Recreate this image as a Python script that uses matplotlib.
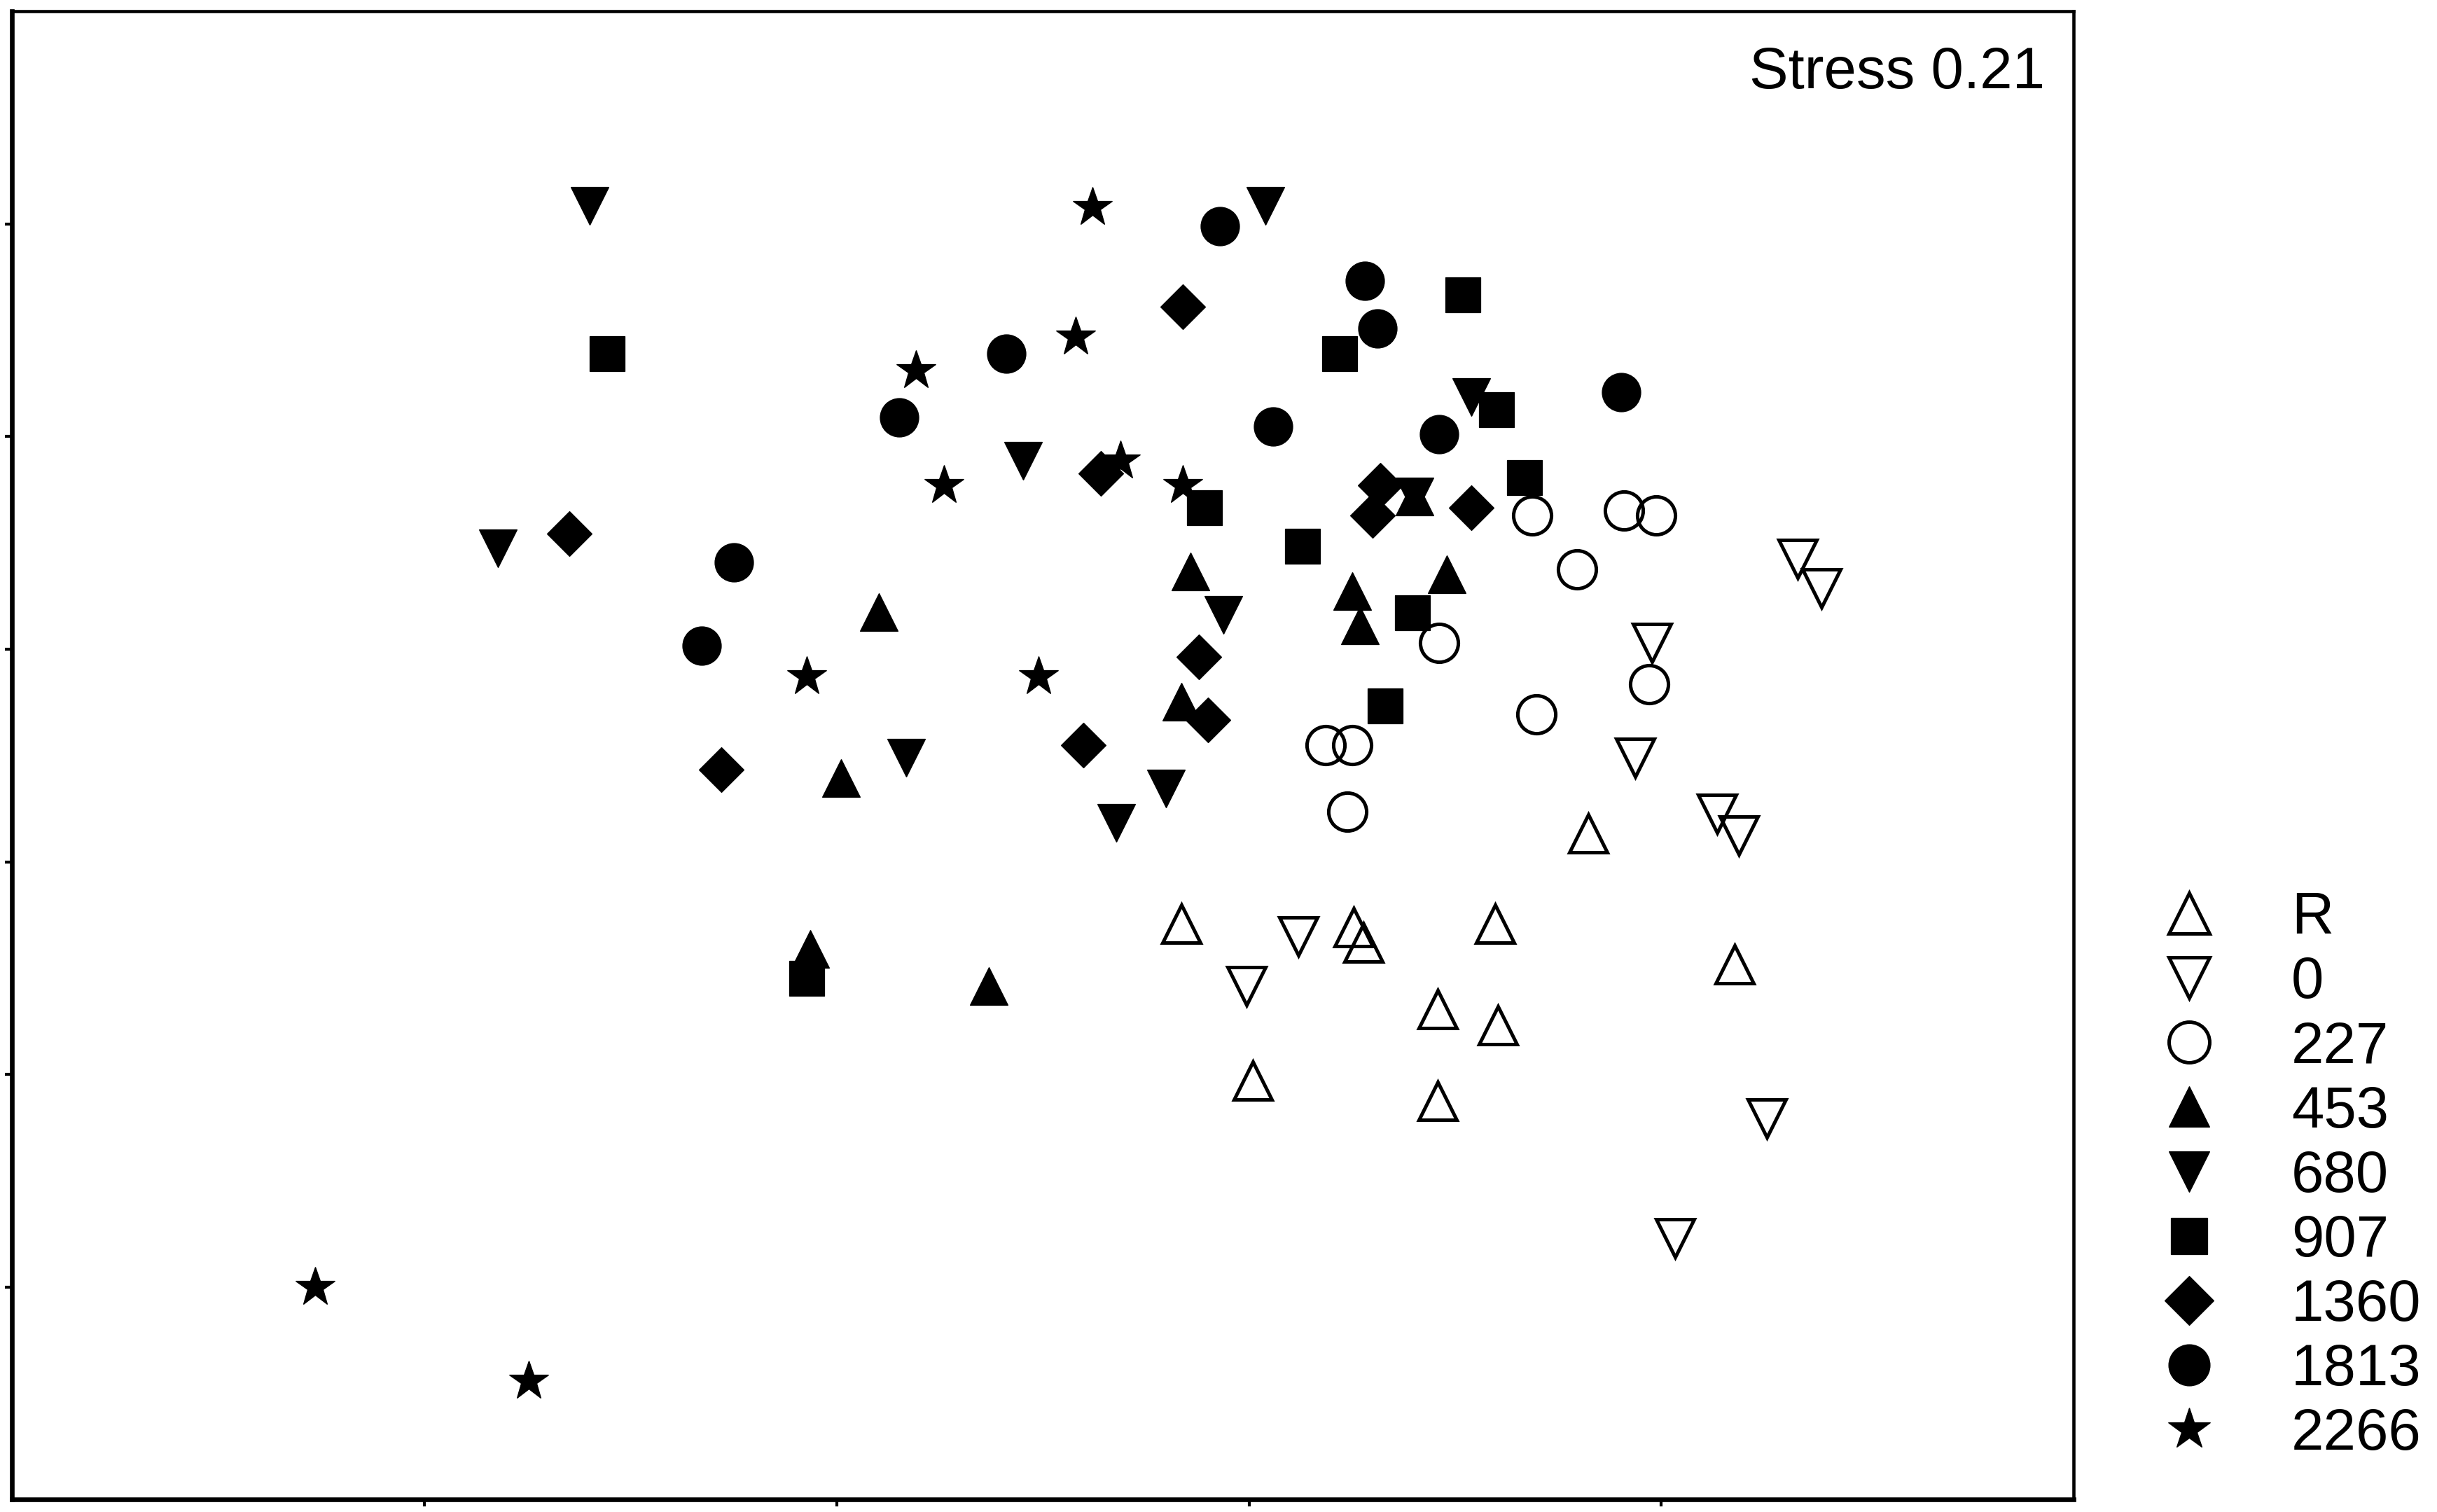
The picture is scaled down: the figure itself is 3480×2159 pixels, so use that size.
#!/usr/bin/env python3
"""NMDS ordination plot, one symbol per treatment level."""
import matplotlib
matplotlib.use("Agg")
import matplotlib.pyplot as plt

plt.rcParams["font.family"] = ["Liberation Sans", "DejaVu Sans"]

# NMDS scores (axis 1, axis 2)
x_R = [1.823, 0.836, 1.254, 1.277, 1.597, 2.177, 1.457, 1.604, 1.009, 1.457]
y_R = [0.066, -0.146, -0.154, -0.190, -0.146, -0.241, -0.347, -0.384, -0.515, -0.563]
x_0 = [2.331, 2.388, 1.977, 1.936, 2.135, 2.188, 1.119, 0.994, 2.256, 2.034]
y_0 = [0.713, 0.643, 0.515, 0.245, 0.113, 0.062, -0.175, -0.292, -0.603, -0.885]
x_227 = [1.687, 1.909, 1.988, 1.796, 1.461, 1.970, 1.698, 1.186, 1.250, 1.239]
y_227 = [0.815, 0.826, 0.815, 0.687, 0.515, 0.417, 0.347, 0.274, 0.274, 0.117]
x_453 = [0.102, 0.859, 1.250, 1.269, 1.480, 0.836, 0.011, -0.064, 0.369, 1.401]
y_453 = [0.588, 0.683, 0.636, 0.556, 0.676, 0.376, 0.197, -0.205, -0.292, 0.859]
x_680 = [-0.599, 1.040, 1.540, 0.452, -0.821, 1.401, 0.938, 0.169, 0.798, 0.678]
y_680 = [1.542, 1.542, 1.093, 0.943, 0.738, 0.859, 0.581, 0.245, 0.172, 0.091]
x_907 = [-0.557, 1.518, 1.220, 1.601, 1.668, 0.893, 1.130, 1.397, 1.330, -0.072]
y_907 = [1.195, 1.334, 1.195, 1.064, 0.903, 0.833, 0.742, 0.585, 0.366, -0.274]
x_1360 = [0.840, 0.640, -0.648, 1.318, 1.299, 1.540, 0.878, 0.900, 0.599, -0.279]
y_1360 = [1.305, 0.914, 0.771, 0.885, 0.815, 0.833, 0.482, 0.333, 0.274, 0.216]
x_1813 = [0.930, 1.281, 1.311, 0.411, 0.151, 1.058, 1.461, 1.902, -0.249, -0.328]
y_1813 = [1.495, 1.367, 1.254, 1.195, 1.045, 1.023, 1.005, 1.104, 0.705, 0.508]
x_2266 = [0.621, 0.580, 0.192, 0.260, 0.689, 0.840, -0.072, 0.490, -1.265, -0.746]
y_2266 = [1.539, 1.235, 1.155, 0.885, 0.943, 0.885, 0.435, 0.435, -1.001, -1.221]

LABELS = ["R", "0", "227", "453", "680", "907", "1360", "1813", "2266"]
XS = [x_R, x_0, x_227, x_453, x_680, x_907, x_1360, x_1813, x_2266]
YS = [y_R, y_0, y_227, y_453, y_680, y_907, y_1360, y_1813, y_2266]
STRESS = 0.21

# symbol, size, open?
STYLE = [("^", 13, True), ("v", 13, True), ("o", 13, True),
         ("^", 13, False), ("v", 13, False), ("s", 11.8, False),
         ("D", 11, False), ("o", 13.2, False), ("*", 14, False)]

fig = plt.figure(figsize=(11.6, 2159 / 300), dpi=300)
ax = fig.add_axes([0.0049, 0.0083, 0.846, 0.9841])

handles = []
for lab, xs, ys, (m, ms, hollow) in zip(LABELS, XS, YS, STYLE):
    if hollow:
        h, = ax.plot(xs, ys, ls="none", marker=m, ms=ms, mfc="none",
                     mec="black", mew=1.2, label=lab)
    else:
        h, = ax.plot(xs, ys, ls="none", marker=m, ms=ms, mfc="black",
                     mec="black", mew=0.3, label=lab)
    handles.append(h)

ax.set_xlim(-2, 3)
ax.set_ylim(-1.5, 2.0)
ax.set_xticks([-1, 0, 1, 2])
ax.set_yticks([-1, -0.5, 0, 0.5, 1, 1.5])
ax.tick_params(direction="out", length=2.5, width=1.0, labelbottom=False,
               labelleft=False)
for side in ["left", "bottom"]:
    ax.spines[side].set_linewidth(1.6)
for side in ["top", "right"]:
    ax.spines[side].set_linewidth(1.1)

ax.text(0.986, 0.977, f"Stress {STRESS:.2f}", transform=ax.transAxes,
        ha="right", va="top", fontsize=20)

fig.legend(handles=handles, loc="center", bbox_to_anchor=(0.934, 0.222),
           frameon=False, fontsize=20, numpoints=1, labelspacing=0.17,
           markerscale=1.07, handlelength=2.0, handletextpad=0.75)

fig.savefig("out.png", dpi=300)
print("saved out.png")
